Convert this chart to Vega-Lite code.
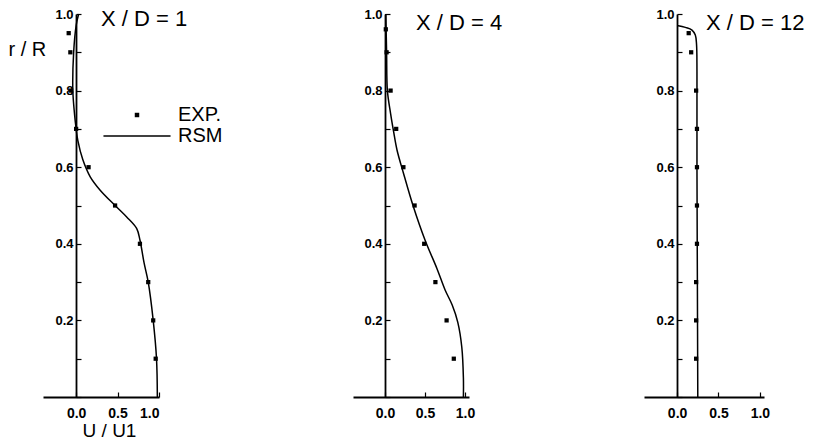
{
  "$schema": "https://vega.github.io/schema/vega-lite/v6.json",
  "padding": {"left": 8, "top": 8, "right": 2, "bottom": 5},
  "background": "white",
  "config": {
    "font": "Liberation Sans",
    "view": {"stroke": null},
    "axis": {
      "grid": false,
      "domainColor": "black",
      "domainWidth": 1.8,
      "tickColor": "black",
      "tickWidth": 1.2,
      "tickSize": -5,
      "labelColor": "black",
      "labelFont": "Liberation Sans",
      "labelFontWeight": "bold",
      "titleColor": "black",
      "titleFont": "Liberation Sans",
      "titleFontWeight": "normal"
    },
    "legend": {"labelFont": "Liberation Sans", "labelColor": "black"},
    "title": {"font": "Liberation Sans", "fontSize": 22, "fontWeight": "normal", "color": "black", "anchor": "start", "baseline": "middle", "frame": "group"}
  },
  "data": {
    "values": [
      {"panel": 1, "series": "EXP.", "U": -0.09, "r": 0.95},
      {"panel": 1, "series": "EXP.", "U": -0.07, "r": 0.90},
      {"panel": 1, "series": "EXP.", "U": -0.06, "r": 0.80},
      {"panel": 1, "series": "EXP.", "U": 0.0, "r": 0.70},
      {"panel": 1, "series": "EXP.", "U": 0.15, "r": 0.60},
      {"panel": 1, "series": "EXP.", "U": 0.47, "r": 0.50},
      {"panel": 1, "series": "EXP.", "U": 0.77, "r": 0.40},
      {"panel": 1, "series": "EXP.", "U": 0.87, "r": 0.30},
      {"panel": 1, "series": "EXP.", "U": 0.93, "r": 0.20},
      {"panel": 1, "series": "EXP.", "U": 0.96, "r": 0.10},
      {"panel": 1, "series": "RSM", "U": 0.03, "r": 1.0},
      {"panel": 1, "series": "RSM", "U": 0.0, "r": 0.97},
      {"panel": 1, "series": "RSM", "U": -0.03, "r": 0.90},
      {"panel": 1, "series": "RSM", "U": -0.04, "r": 0.80},
      {"panel": 1, "series": "RSM", "U": -0.02, "r": 0.74},
      {"panel": 1, "series": "RSM", "U": 0.0, "r": 0.70},
      {"panel": 1, "series": "RSM", "U": 0.02, "r": 0.67},
      {"panel": 1, "series": "RSM", "U": 0.08, "r": 0.62},
      {"panel": 1, "series": "RSM", "U": 0.17, "r": 0.575},
      {"panel": 1, "series": "RSM", "U": 0.29, "r": 0.54},
      {"panel": 1, "series": "RSM", "U": 0.47, "r": 0.50},
      {"panel": 1, "series": "RSM", "U": 0.61, "r": 0.47},
      {"panel": 1, "series": "RSM", "U": 0.73, "r": 0.44},
      {"panel": 1, "series": "RSM", "U": 0.77, "r": 0.41},
      {"panel": 1, "series": "RSM", "U": 0.82, "r": 0.35},
      {"panel": 1, "series": "RSM", "U": 0.87, "r": 0.30},
      {"panel": 1, "series": "RSM", "U": 0.93, "r": 0.20},
      {"panel": 1, "series": "RSM", "U": 0.97, "r": 0.10},
      {"panel": 1, "series": "RSM", "U": 0.98, "r": 0.0},
      {"panel": 2, "series": "EXP.", "U": 0.01, "r": 0.96},
      {"panel": 2, "series": "EXP.", "U": 0.02, "r": 0.90},
      {"panel": 2, "series": "EXP.", "U": 0.07, "r": 0.80},
      {"panel": 2, "series": "EXP.", "U": 0.14, "r": 0.70},
      {"panel": 2, "series": "EXP.", "U": 0.23, "r": 0.60},
      {"panel": 2, "series": "EXP.", "U": 0.37, "r": 0.50},
      {"panel": 2, "series": "EXP.", "U": 0.49, "r": 0.40},
      {"panel": 2, "series": "EXP.", "U": 0.63, "r": 0.30},
      {"panel": 2, "series": "EXP.", "U": 0.77, "r": 0.20},
      {"panel": 2, "series": "EXP.", "U": 0.86, "r": 0.10},
      {"panel": 2, "series": "RSM", "U": 0.01, "r": 1.0},
      {"panel": 2, "series": "RSM", "U": 0.02, "r": 0.90},
      {"panel": 2, "series": "RSM", "U": 0.03, "r": 0.80},
      {"panel": 2, "series": "RSM", "U": 0.07, "r": 0.74},
      {"panel": 2, "series": "RSM", "U": 0.11, "r": 0.69},
      {"panel": 2, "series": "RSM", "U": 0.15, "r": 0.645},
      {"panel": 2, "series": "RSM", "U": 0.23, "r": 0.585},
      {"panel": 2, "series": "RSM", "U": 0.35, "r": 0.50},
      {"panel": 2, "series": "RSM", "U": 0.50, "r": 0.41},
      {"panel": 2, "series": "RSM", "U": 0.65, "r": 0.335},
      {"panel": 2, "series": "RSM", "U": 0.75, "r": 0.28},
      {"panel": 2, "series": "RSM", "U": 0.84, "r": 0.24},
      {"panel": 2, "series": "RSM", "U": 0.91, "r": 0.195},
      {"panel": 2, "series": "RSM", "U": 0.96, "r": 0.13},
      {"panel": 2, "series": "RSM", "U": 0.98, "r": 0.05},
      {"panel": 2, "series": "RSM", "U": 0.98, "r": 0.0},
      {"panel": 3, "series": "EXP.", "U": 0.14, "r": 0.95},
      {"panel": 3, "series": "EXP.", "U": 0.17, "r": 0.90},
      {"panel": 3, "series": "EXP.", "U": 0.23, "r": 0.80},
      {"panel": 3, "series": "EXP.", "U": 0.24, "r": 0.70},
      {"panel": 3, "series": "EXP.", "U": 0.24, "r": 0.60},
      {"panel": 3, "series": "EXP.", "U": 0.24, "r": 0.50},
      {"panel": 3, "series": "EXP.", "U": 0.24, "r": 0.40},
      {"panel": 3, "series": "EXP.", "U": 0.23, "r": 0.30},
      {"panel": 3, "series": "EXP.", "U": 0.23, "r": 0.20},
      {"panel": 3, "series": "EXP.", "U": 0.23, "r": 0.10},
      {"panel": 3, "series": "RSM", "U": 0.0, "r": 0.97},
      {"panel": 3, "series": "RSM", "U": 0.10, "r": 0.965},
      {"panel": 3, "series": "RSM", "U": 0.18, "r": 0.958},
      {"panel": 3, "series": "RSM", "U": 0.22, "r": 0.945},
      {"panel": 3, "series": "RSM", "U": 0.235, "r": 0.92},
      {"panel": 3, "series": "RSM", "U": 0.24, "r": 0.85},
      {"panel": 3, "series": "RSM", "U": 0.24, "r": 0.60},
      {"panel": 3, "series": "RSM", "U": 0.245, "r": 0.30},
      {"panel": 3, "series": "RSM", "U": 0.25, "r": 0.0}
    ]
  },
  "resolve": {"scale": {"shape": "independent"}, "legend": {"shape": "independent"}},
  "spacing": 141,
  "hconcat": [
    {
      "bounds": "flush",
      "spacing": 194,
      "resolve": {"scale": {"shape": "independent"}, "legend": {"shape": "independent"}},
      "hconcat": [
        {
          "width": 116,
          "height": 383,
          "title": {"text": "X / D = 1", "dx": 58, "offset": -23},
          "encoding": {
            "x": {
              "field": "U", "type": "quantitative",
              "scale": {"domain": [-0.4, 1.0], "nice": false, "zero": false},
              "axis": {"values": [0, 0.5, 1], "format": ".1f", "labelFontSize": 14, "labelPadding": 14,
                       "title": "U / U1", "titleFontSize": 19, "titleX": 66, "titleY": 33, "titleBaseline": "middle"}
            },
            "y": {
              "field": "r", "type": "quantitative",
              "scale": {"domain": [0, 1], "nice": false},
              "axis": {"values": [0, 0.1, 0.2, 0.3, 0.4, 0.5, 0.6, 0.7, 0.8, 0.9, 1.0], "format": ".1f",
                       "labelExpr": "(round(datum.value * 10) % 2 == 0 && datum.value > 0) ? datum.label : ''",
                       "labelFontSize": 13, "labelPadding": 8, "offset": -33,
                       "title": "r / R", "titleAngle": 0, "titleFontSize": 20, "titleX": -68, "titleY": 35,
                       "titleAlign": "left", "titleBaseline": "middle"}
            }
          },
          "layer": [
            {
              "transform": [{"filter": "datum.panel == 1 && datum.series == 'RSM'"}],
              "mark": {"type": "line", "color": "black", "strokeWidth": 1.5, "interpolate": "catmull-rom"},
              "encoding": {"order": {"field": "r", "sort": "descending"}}
            },
            {
              "transform": [{"filter": "datum.panel == 1 && datum.series == 'EXP.'"}],
              "mark": {"type": "point", "filled": true, "color": "black", "opacity": 1, "size": 18},
              "encoding": {
                "shape": {"field": "series", "type": "nominal",
                          "scale": {"domain": ["EXP.", "RSM"], "range": ["square", "M-15,-0.33H15V0.33H-15Z"]},
                          "legend": {"title": null, "orient": "none", "legendX": 84, "legendY": 91,
                                     "labelFontSize": 20, "labelOffset": 31, "rowPadding": 1,
                                     "symbolSize": 20, "symbolStrokeWidth": 0,
                                     "encode": {"symbols": {"update": {"fill": {"value": "black"}, "fillOpacity": {"value": 1}}}}}}
              }
            }
          ]
        },
        {
          "width": 116,
          "height": 383,
          "title": {"text": "X / D = 4", "dx": 63, "offset": -27},
          "encoding": {
            "x": {
              "field": "U", "type": "quantitative",
              "scale": {"domain": [-0.4, 1.05], "nice": false, "zero": false},
              "axis": {"values": [0, 0.5, 1], "format": ".1f", "labelFontSize": 14, "labelPadding": 14, "title": null}
            },
            "y": {
              "field": "r", "type": "quantitative",
              "scale": {"domain": [0, 1], "nice": false},
              "axis": {"values": [0, 0.1, 0.2, 0.3, 0.4, 0.5, 0.6, 0.7, 0.8, 0.9, 1.0], "format": ".1f",
                       "labelExpr": "(round(datum.value * 10) % 2 == 0 && datum.value > 0) ? datum.label : ''",
                       "labelFontSize": 13, "labelPadding": 8, "offset": -32, "title": null}
            }
          },
          "layer": [
            {
              "transform": [{"filter": "datum.panel == 2 && datum.series == 'RSM'"}],
              "mark": {"type": "line", "color": "black", "strokeWidth": 1.5, "interpolate": "catmull-rom"},
              "encoding": {"order": {"field": "r", "sort": "descending"}}
            },
            {
              "transform": [{"filter": "datum.panel == 2 && datum.series == 'EXP.'"}],
              "mark": {"type": "point", "filled": true, "color": "black", "opacity": 1, "shape": "square", "size": 18}
            }
          ]
        }
      ]
    },
    {
      "width": 120,
      "height": 383,
      "title": {"text": "X / D = 12", "dx": 62, "offset": -27},
      "encoding": {
        "x": {
          "field": "U", "type": "quantitative",
          "scale": {"domain": [-0.4, 1.05], "nice": false, "zero": false},
          "axis": {"values": [0, 0.5, 1], "format": ".1f", "labelFontSize": 14, "labelPadding": 14, "title": null}
        },
        "y": {
          "field": "r", "type": "quantitative",
          "scale": {"domain": [0, 1], "nice": false},
          "axis": {"values": [0, 0.1, 0.2, 0.3, 0.4, 0.5, 0.6, 0.7, 0.8, 0.9, 1.0], "format": ".1f",
                   "labelExpr": "(round(datum.value * 10) % 2 == 0 && datum.value > 0) ? datum.label : ''",
                   "labelFontSize": 13, "labelPadding": 8, "offset": -33, "title": null}
        }
      },
      "layer": [
        {
          "transform": [{"filter": "datum.panel == 3 && datum.series == 'RSM'"}],
          "mark": {"type": "line", "color": "black", "strokeWidth": 1.5, "interpolate": "catmull-rom"},
          "encoding": {"order": {"field": "r", "sort": "descending"}}
        },
        {
          "transform": [{"filter": "datum.panel == 3 && datum.series == 'EXP.'"}],
          "mark": {"type": "point", "filled": true, "color": "black", "opacity": 1, "shape": "square", "size": 18}
        }
      ]
    }
  ]
}
